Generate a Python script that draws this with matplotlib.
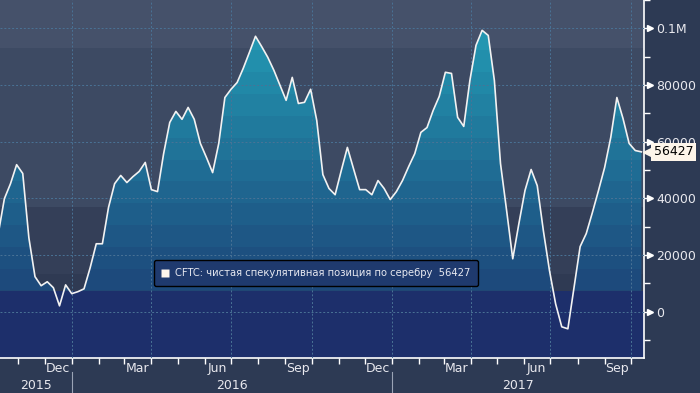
import matplotlib
matplotlib.use('Agg')
import matplotlib.pyplot as plt
import matplotlib.dates as mdates
import matplotlib.ticker as mticker
import matplotlib.transforms as mtransforms
from matplotlib.colors import LinearSegmentedColormap
from matplotlib.lines import Line2D
from matplotlib.path import Path
import numpy as np
import pandas as pd

# Weekly CFTC net speculative silver position

dates = pd.date_range('2015-10-09', periods=106, freq='7D')
values_2015 = [27500, 39900, 45200, 51900, 48800, 26100, 12400, 9200, 10600, 8500,
               2100, 9500, 6400]
values_2016 = [7100, 8100, 15500, 24000, 24000, 36800, 45200, 48100, 45600, 47700,
               49500, 52700, 43100, 42400, 55800, 66800, 70700, 67900, 72100, 67900,
               59400, 54400, 49100, 59400, 75600, 78500, 80900, 85900, 91500, 97200,
               93600, 89800, 85200, 79900, 74600, 82700, 73500, 73900, 78500, 67500,
               48400, 43500, 41300, 49800, 58000, 50500, 43100, 43100, 41300, 46300,
               43500, 39600]
values_2017 = [42400, 46300, 51200, 55800, 63300, 65000, 71000, 76000, 84500, 84100,
               68600, 65400, 81600, 94000, 99300, 97500, 81600, 52300, 35700, 18700,
               31100, 42800, 50200, 44500, 28600, 14500, 2800, -5300, -6000, 8500,
               23000, 27600, 35000, 42800, 50900, 61500, 75600, 68200, 59400, 56900,
               56427]
values = np.array(values_2015 + values_2016 + values_2017, dtype=float)
last_value = 56427
series_label = 'CFTC: чистая спекулятивная позиция по серебру'

ytick_values = [0, 20000, 40000, 60000, 80000, 100000]
ytick_labels = ['0', '20000', '40000', '60000', '80000', '0.1M']
month_label_dates = pd.to_datetime(['2015-12-16', '2016-03-16', '2016-06-15', '2016-09-15',
                                    '2016-12-16', '2017-03-16', '2017-06-15', '2017-09-15'])
month_labels = ['Dec', 'Mar', 'Jun', 'Sep', 'Dec', 'Mar', 'Jun', 'Sep']
year_labels = ['2015', '2016', '2017']
year_starts = pd.to_datetime(['2016-01-01', '2017-01-01'])

x_start = pd.Timestamp('2015-10-11')
x_end = pd.Timestamp('2017-10-16')
y_bottom, y_top = -16300, 110000

# background bands (value ranges) and the base of the gradient fill
fill_base = 7400
bg_bands = [(y_bottom, fill_base, '#1d2f6b'),
            (fill_base, 13400, '#2f3a53'),
            (13400, 36800, '#343f58'),
            (36800, 92900, '#3d4a63'),
            (92900, y_top, '#45516a')]

fig = plt.figure(figsize=(7.0, 3.93), dpi=100, facecolor='#2d3a54')
ax = fig.add_axes([0.0, 1 - 358 / 393, 644 / 700, 358 / 393])

for lo, hi, col in bg_bands:
    ax.axhspan(lo, hi, color=col, lw=0, zorder=0)

ax.plot(dates, values, color='#f2f2f2', lw=1.2, zorder=4)

# banded gradient under the line, clipped to the area between line and base
fill = ax.fill_between(dates, values, fill_base, where=values > fill_base,
                       interpolate=True, facecolor='none', edgecolor='none')
clip = Path.make_compound_path(*fill.get_paths())
cmap = LinearSegmentedColormap.from_list('fill', ['#1d4a7c', '#2396b1'], N=12)
x0n, x1n = mdates.date2num(x_start), mdates.date2num(x_end)
im = ax.imshow(np.linspace(0, 1, 12).reshape(-1, 1), cmap=cmap, origin='lower',
               extent=[x0n, x1n, fill_base, 100000], aspect='auto',
               interpolation='nearest', zorder=1)
im.set_clip_path(clip, transform=ax.transData)

ax.set_xlim(x_start, x_end)
ax.set_ylim(y_bottom, y_top)

# grid
grid_kw = dict(color='#4a7396', lw=0.7, linestyle=(0, (2, 2)))
ax.xaxis.set_major_locator(mdates.MonthLocator(bymonth=[1, 4, 7, 10]))
ax.xaxis.set_minor_locator(mdates.MonthLocator())
ax.xaxis.set_major_formatter(mticker.NullFormatter())
ax.grid(True, which='major', zorder=2, **grid_kw)
ax.set_axisbelow(False)
for gl in ax.get_xgridlines() + ax.get_ygridlines():
    gl.set_zorder(2)

ax.tick_params(axis='x', which='both', length=4, width=1, color='white', direction='out')

# y axis on the right
ax.yaxis.tick_right()
ax.set_yticks(ytick_values, ytick_labels)
ax.yaxis.set_minor_locator(mticker.MultipleLocator(10000))
ax.tick_params(axis='y', which='major', length=6, width=1, color='white',
               labelcolor='#e8e8ee', labelsize=9, pad=3)
ax.tick_params(axis='y', which='minor', length=4, width=1, color='white')

tri = mtransforms.blended_transform_factory(ax.transAxes, ax.transData) + \
    mtransforms.ScaledTranslation(4 / 72, 0, fig.dpi_scale_trans)
ax.plot([1] * len(ytick_values), ytick_values, ls='none', marker='>', ms=4,
        color='white', transform=tri, clip_on=False, zorder=5)

for side in ['left', 'top']:
    ax.spines[side].set_visible(False)
for side in ['bottom', 'right']:
    ax.spines[side].set_color('white')
    ax.spines[side].set_linewidth(1.2)

# month labels
sec = ax.secondary_xaxis('bottom')
sec.set_xticks(mdates.date2num(month_label_dates), labels=month_labels)
sec.tick_params(length=0, pad=3, labelsize=9, colors='#e8e8ee')
sec.spines['bottom'].set_visible(False)

# year row
xt = ax.get_xaxis_transform()
edges = [x_start] + list(year_starts) + [x_end]
for i, yl in enumerate(year_labels):
    mid = edges[i] + (edges[i + 1] - edges[i]) / 2
    ax.text(mid, -0.076, yl, transform=xt, ha='center', va='center',
            fontsize=9, color='#e8e8ee', clip_on=False)
for ys in year_starts:
    ax.plot([ys, ys], [-0.04, -0.1], transform=xt, color='#9aa3b5', lw=0.8, clip_on=False)

# legend
handle = Line2D([], [], ls='none', marker='s', markersize=5.5,
                markerfacecolor='#fdf5ec', markeredgecolor='none')
leg = ax.legend([handle], [f'{series_label}  {last_value}'], loc='center',
                bbox_to_anchor=(0.4907, 0.2374), fontsize=7.2, frameon=True,
                facecolor='#1f3a6e', edgecolor='black', framealpha=1,
                handlelength=0.7, handletextpad=0.6, borderpad=0.8,
                borderaxespad=0, labelcolor='#e6e8f0')
leg.get_frame().set_linewidth(1.0)
leg.set_zorder(6)

# last value tag
tag = mtransforms.blended_transform_factory(ax.transAxes, ax.transData) + \
    mtransforms.ScaledTranslation(3 / 72, 0, fig.dpi_scale_trans)
ax.plot([1], [last_value], ls='none', marker='<', ms=7, color='#fdf5ea',
        transform=tag, clip_on=False, zorder=7)
ax.annotate(str(last_value), xy=(1, last_value), xycoords=('axes fraction', 'data'),
            xytext=(7, 0), textcoords='offset points', ha='left', va='center',
            fontsize=9, color='black', annotation_clip=False, zorder=8,
            bbox=dict(boxstyle='square,pad=0.2', fc='#fdf5ea', ec='none'))

fig.savefig('out.png', dpi=100, facecolor=fig.get_facecolor())
